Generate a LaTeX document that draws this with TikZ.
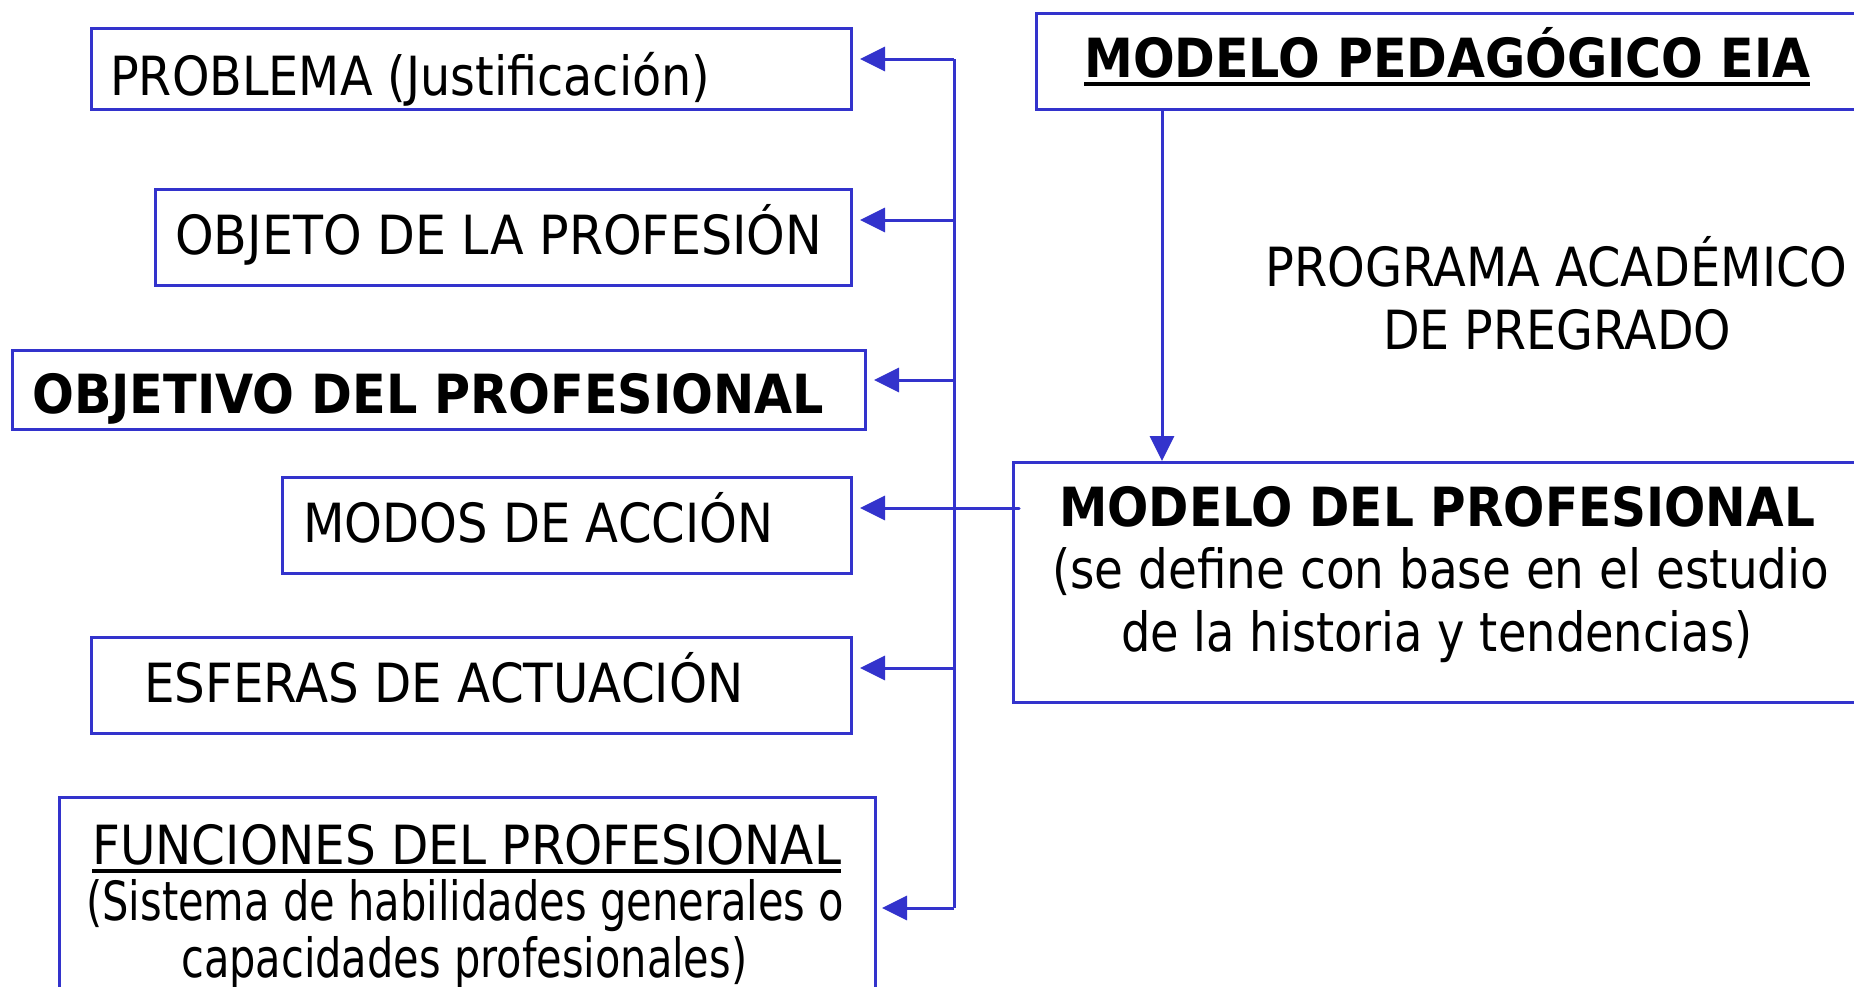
\documentclass[tikz,border=0pt]{standalone}
\usepackage{graphicx}
\usepackage{fontspec}
\setmainfont{DejaVu Sans}
\usetikzlibrary{arrows.meta,calc}
\definecolor{lineblue}{RGB}{51,51,204}
\newcommand\fw[2]{\resizebox{#1pt}{\height}{#2}}
\newcommand\ulx[1]{\setbox0=\hbox{#1}\rlap{\rule[-9pt]{\wd0}{4.5pt}}\box0}
\tikzset{
  box/.style={draw=lineblue, line width=3pt, rectangle, inner sep=0pt, anchor=north west},
  txt/.style={inner sep=0pt, anchor=base west, font=\fontsize{54}{64}\selectfont},
  btxt/.style={txt, font=\fontsize{54}{64}\selectfont\bfseries},
  conn/.style={draw=lineblue, line width=3pt},
  arr/.style={conn, -{Triangle[length=25pt,width=24pt]}}
}
\begin{document}
\begin{tikzpicture}[x=1pt,y=-1pt]
\useasboundingbox (0,0) rectangle (1854,986);
\clip (0,0) rectangle (1854,986);
\fill[white] (0,0) rectangle (1854,986);

% boxes
\node[box, minimum width=760pt, minimum height=81pt] (prob) at (90,27) {};
\node[box, minimum width=696pt, minimum height=96pt] (obj) at (154,188) {};
\node[box, minimum width=853pt, minimum height=79pt] (objv) at (11,349) {};
\node[box, minimum width=569pt, minimum height=96pt] (modos) at (281,476) {};
\node[box, minimum width=760pt, minimum height=96pt] (esf) at (90,636) {};
\node[box, minimum width=816pt, minimum height=230pt] (func) at (58,796) {};
\node[box, minimum width=850pt, minimum height=96pt] (mped) at (1035,12) {};
\node[box, minimum width=870pt, minimum height=240pt] (mprof) at (1012,461) {};

% texts
\node[txt] (tprob) at (110,95) {\fw{600}{PROBLEMA (Justificación)}};
\node[txt] (tobj) at (175,254) {\fw{647}{OBJETO DE LA PROFESIÓN}};
\node[btxt] (tobjv) at (32,413) {\fw{792}{OBJETIVO DEL PROFESIONAL}};
\node[txt] (tmodos) at (303,542) {\fw{470}{MODOS DE ACCIÓN}};
\node[txt] (tesf) at (144,702) {\fw{599}{ESFERAS DE ACTUACIÓN}};
\node[txt] (tfunc1) at (92,864) {\fw{749}{\ulx{FUNCIONES DEL PROFESIONAL}}};
\node[txt] (tfunc2) at (86,920) {\fw{758}{(Sistema de habilidades generales o}};
\node[txt] (tfunc3) at (181,977) {\fw{566}{capacidades profesionales)}};
\node[btxt] (tmped) at (1084,77) {\fw{726}{\ulx{MODELO PEDAGÓGICO EIA}}};
\node[txt] (tprog1) at (1265,286) {\fw{582}{PROGRAMA ACADÉMICO}};
\node[txt] (tprog2) at (1383,349) {\fw{348}{DE PREGRADO}};
\node[btxt] (tmprof1) at (1059,526) {\fw{756}{MODELO DEL PROFESIONAL}};
\node[txt] (tmprof2) at (1052,588) {\fw{777}{(se define con base en el estudio}};
\node[txt] (tmprof3) at (1121,651) {\fw{631}{de la historia y tendencias)}};

% bus coordinates
\coordinate (b1) at (954,59);
\coordinate (b2) at (954,220);
\coordinate (b3) at (954,380);
\coordinate (b5) at (954,668);
\coordinate (b6) at (954,908);
\coordinate (m1) at (1019,508);
\coordinate (a1) at (1162,108);

\draw[conn] (b1) -- (b6);
\draw[arr] (b1) -- ([xshift=7pt]b1 -| prob.east);
\draw[arr] (b2) -- ([xshift=7pt]b2 -| obj.east);
\draw[arr] (b3) -- ([xshift=7pt]b3 -| objv.east);
\draw[arr] (b5) -- ([xshift=7pt]b5 -| esf.east);
\draw[arr] (b6) -- ([xshift=5pt]b6 -| func.east);
\draw[arr, line cap=round] (m1) -- ([xshift=7pt]m1 -| modos.east);
\draw[arr] (a1 |- mped.south) -- (a1 |- mprof.north);
\end{tikzpicture}
\end{document}
